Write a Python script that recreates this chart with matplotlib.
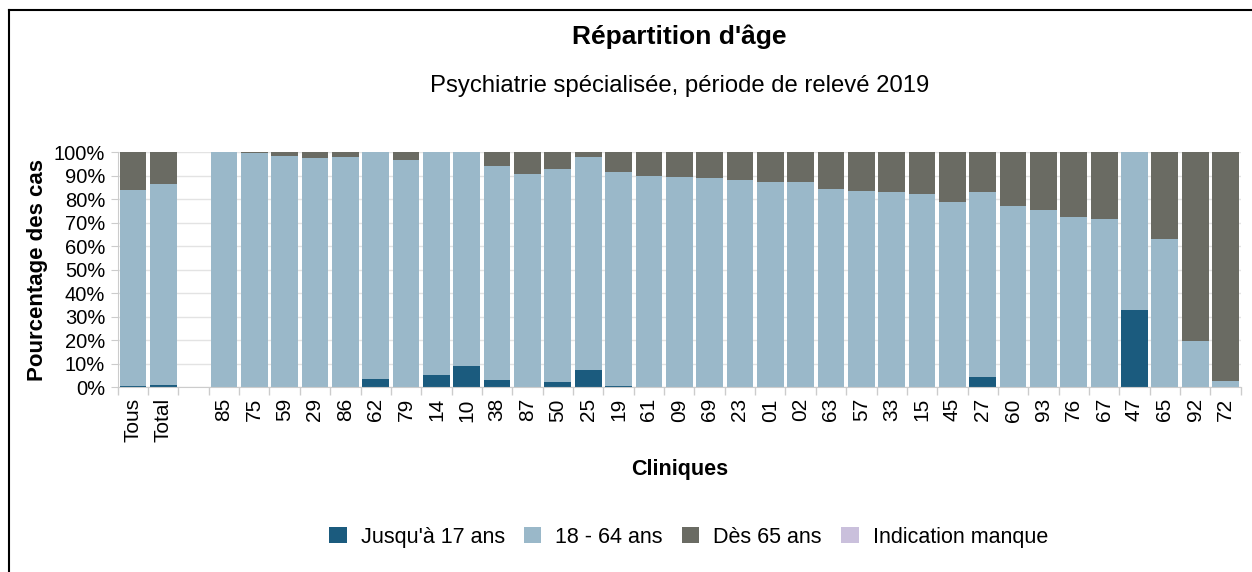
import matplotlib
matplotlib.use("Agg")
import matplotlib.pyplot as plt
from matplotlib.lines import Line2D
from matplotlib.patches import Patch
import numpy as np

plt.rcParams['font.family'] = ['Liberation Sans', 'DejaVu Sans']

# Data (percent of cases)
cliniques = ["Tous", "Total", "", "85", "75", "59", "29", "86", "62", "79", "14", "10",
             "38", "87", "50", "25", "19", "61", "09", "69", "23", "01", "02", "63",
             "57", "33", "15", "45", "27", "60", "93", "76", "67", "47", "65", "92", "72"]
jusqu_17 = [0.5, 1.0, 0, 0, 0, 0, 0, 0, 3.5, 0, 5.0, 9.0,
            3.0, 0, 2.1, 7.2, 0.5, 0, 0, 0, 0, 0, 0, 0,
            0, 0, 0, 0, 4.3, 0, 0, 0, 0, 32.6, 0, 0, 0]
de_18_64 = [83.5, 85.5, 0, 100, 99.5, 98.5, 97.5, 98.0, 96.5, 96.5, 95.0, 91.0,
            91.0, 90.6, 90.7, 90.7, 90.8, 90.0, 89.2, 88.9, 87.9, 87.4, 87.4, 84.1,
            83.5, 83.2, 82.1, 78.9, 78.9, 77.0, 75.3, 72.5, 71.6, 67.4, 63.0, 19.4, 2.7]
des_65 = [16.0, 13.5, 0, 0, 0.5, 1.5, 2.5, 2.0, 0, 3.5, 0, 0,
          6.0, 9.4, 7.2, 2.1, 8.7, 10.0, 10.8, 11.1, 12.1, 12.6, 12.6, 15.9,
          16.5, 16.8, 17.9, 21.1, 16.8, 23.0, 24.7, 27.5, 28.4, 0, 37.0, 80.6, 97.3]
manque = [0] * len(cliniques)

series_labels = ["Jusqu'à 17 ans", "18 - 64 ans", "Dès 65 ans", "Indication manque"]
colors = ["#1b5b7e", "#9ab8c9", "#6a6b63", "#cac0dc"]

fig = plt.figure(figsize=(12.52, 5.72), dpi=100)
ax = fig.add_axes([0.094, 0.3234, 0.897, 0.4108])

x = np.arange(len(cliniques))
bottom = np.zeros(len(cliniques))
for vals, col in zip([jusqu_17, de_18_64, des_65, manque], colors):
    vals = np.array(vals, dtype=float)
    ax.bar(x, vals, 0.88, bottom=bottom, color=col, zorder=2)
    bottom += vals

ax.set_xlim(-0.5, len(cliniques) - 0.5)
ax.set_ylim(0, 100)
ax.set_yticks(np.arange(0, 101, 10))
ax.set_yticklabels([f"{v}%" for v in range(0, 101, 10)])
ax.grid(axis='y', color='#e3e3e3', linewidth=1, zorder=0)
ax.set_axisbelow(True)

ax.set_xticks(x)
ax.set_xticklabels(cliniques, rotation=90)
ax.set_xticks(np.arange(-0.5, len(cliniques)), minor=True)
ax.tick_params(axis='x', which='major', length=0, pad=8, labelsize=15)
ax.tick_params(axis='x', which='minor', length=6, color='#cccccc', width=1)
ax.tick_params(axis='y', length=5, color='#cccccc', labelsize=14.5, pad=4)

for s in ['top', 'right']:
    ax.spines[s].set_visible(False)
for s in ['left', 'bottom']:
    ax.spines[s].set_color('#cccccc')

ax.set_ylabel("Pourcentage des cas", fontsize=16, fontweight='bold', labelpad=4)
ax.set_xlabel("Cliniques", fontsize=15.5, fontweight='bold', labelpad=12)

fig.text(0.5427, 0.936, "Répartition d'âge", ha='center', va='center',
         fontsize=19, fontweight='bold')
fig.text(0.5427, 0.849, "Psychiatrie spécialisée, période de relevé 2019",
         ha='center', va='center', fontsize=17.2)

handles = [Patch(facecolor=c, edgecolor='none') for c in colors]
fig.legend(handles, series_labels, loc='center', bbox_to_anchor=(0.55, 0.061),
           ncol=4, frameon=False, fontsize=15.5, handlelength=0.8, handleheight=0.8,
           handletextpad=0.65, columnspacing=0.9)

# outer frame (left and top edges only, as in the reference)
fig.add_artist(Line2D([0.0075, 0.0075], [0, 0.9825], color='black', linewidth=1.5,
                      transform=fig.transFigure))
fig.add_artist(Line2D([0.0075, 1], [0.9825, 0.9825], color='black', linewidth=1.5,
                      transform=fig.transFigure))

fig.savefig("out.png", dpi=100)
